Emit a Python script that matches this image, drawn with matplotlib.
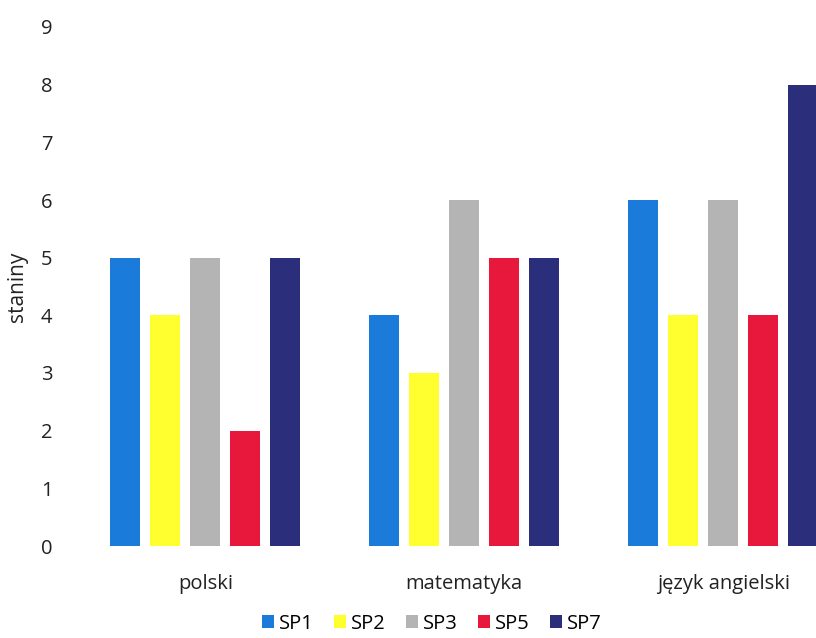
import numpy as np
import matplotlib.pyplot as plt

plt.rcParams['font.family'] = ['Open Sans', 'DejaVu Sans']

subjects = ['polski', 'matematyka', 'język angielski']
schools = ['SP1', 'SP2', 'SP3', 'SP5', 'SP7']
colors = ['#1b7bdb', '#ffff30', '#b4b4b4', '#e8183c', '#2b2e7a']
sp1 = [5, 4, 6]
sp2 = [4, 3, 4]
sp3 = [5, 6, 6]
sp5 = [2, 5, 4]
sp7 = [5, 5, 8]
values = [sp1, sp2, sp3, sp5, sp7]

fig = plt.figure(figsize=(8.16, 6.38), dpi=100)
ax = fig.add_axes([76/816, 92/638, 740/816, (546-27)/638])

x = np.arange(len(subjects))
width = 0.116
step = 0.1545
for i, (name, vals, col) in enumerate(zip(schools, values, colors)):
    ax.bar(x + (i - 2)*step, vals, width, color=col, label=name)

ax.set_xlim(-0.5, 2.359)
ax.set_ylim(0, 9)
ax.set_yticks(range(10))
ax.set_xticks(x)
ax.set_xticklabels(subjects)
ax.tick_params(length=0, labelsize=14.5, colors='#222222')
ax.tick_params(axis='x', pad=20)
ax.tick_params(axis='y', pad=17)
for s in ax.spines.values():
    s.set_visible(False)
ax.set_ylabel('staniny', fontsize=15, color='#222222', labelpad=9)

fig.legend(loc='lower center', bbox_to_anchor=(432/816, 0.0), ncol=5, frameon=False,
           fontsize=14.5, handlelength=0.6, handleheight=0.6, handletextpad=0.25,
           columnspacing=1.0, borderpad=0.1, borderaxespad=0.1)

fig.savefig('out.png', dpi=100, facecolor='white')
